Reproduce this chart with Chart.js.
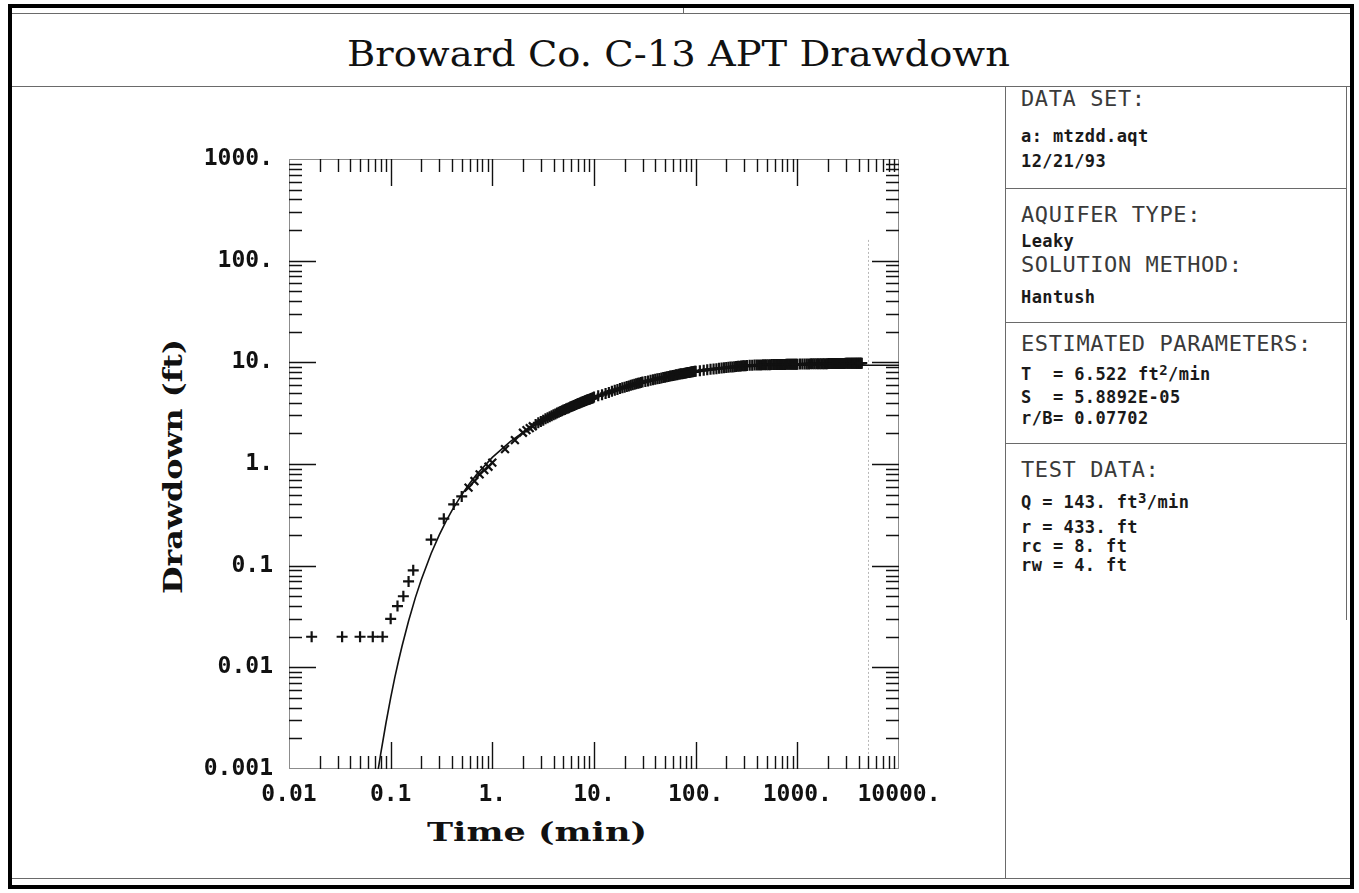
<!DOCTYPE html>
<html>
<head>
<meta charset="utf-8">
<script src="https://cdn.jsdelivr.net/npm/chart.js@4.4.1/dist/chart.umd.min.js"></script>
<style>
  html, body { margin:0; padding:0; background:#fff; }
  body { width:1359px; height:893px; position:relative; overflow:hidden; }
  #c { position:absolute; left:0; top:0; }
  .ln { position:absolute; background:#6a6a6a; }
  .thick { position:absolute; background:#000; }
  .t { position:absolute; white-space:pre; line-height:1; }
  .big { font-family:"DejaVu Sans Mono", monospace; font-size:22px; letter-spacing:0.6px; color:#3a3a3a; }
  .small { font-family:"DejaVu Sans Mono", monospace; font-size:17px; font-weight:bold; color:#1a1a1a; letter-spacing:0.4px; }
  .small sup { font-size:14px; position:relative; top:-3px; vertical-align:top; line-height:1; }
  .fit { position:absolute; white-space:pre; line-height:1; transform-origin:0 0; color:#111; }
  #title { font-family:"DejaVu Serif", serif; font-size:34px; }
  .axt { font-family:"DejaVu Serif", serif; font-weight:bold; font-size:26px; }
</style>
</head>
<body>
<!-- frame -->
<div class="thick" style="left:8px; top:4px; width:1346px; height:4px;"></div>
<div class="thick" style="left:8px; top:885px; width:1346px; height:4px;"></div>
<div class="thick" style="left:8px; top:4px; width:4px; height:885px;"></div>
<div class="thick" style="left:1350px; top:4px; width:4px; height:885px;"></div>
<div class="ln" style="left:12px; top:13px; width:1338px; height:1px;"></div>
<div class="ln" style="left:683px; top:8px; width:1px; height:6px;"></div>
<div class="ln" style="left:12px; top:86px; width:1338px; height:1px;"></div>
<div class="ln" style="left:12px; top:878px; width:1338px; height:1px;"></div>
<div class="ln" style="left:1005px; top:86px; width:1px; height:792px;"></div>
<div class="ln" style="left:1346px; top:86px; width:1px; height:534px;"></div>
<div class="ln" style="left:1005px; top:188px; width:341px; height:1px;"></div>
<div class="ln" style="left:1005px; top:322px; width:341px; height:1px;"></div>
<div class="ln" style="left:1005px; top:443px; width:341px; height:1px;"></div>

<div class="fit" id="title" data-cx="678.5" data-base="66" data-w="663" data-cap="26">Broward Co. C-13 APT Drawdown</div>

<!-- right panel -->
<div class="t big"   style="left:1021px; top:88px;">DATA SET:</div>
<div class="t small" style="left:1021px; top:128px;">a: mtzdd.aqt</div>
<div class="t small" style="left:1021px; top:153px;">12/21/93</div>
<div class="t big"   style="left:1021px; top:204px;">AQUIFER TYPE:</div>
<div class="t small" style="left:1021px; top:233px;">Leaky</div>
<div class="t big"   style="left:1021px; top:254px;">SOLUTION METHOD:</div>
<div class="t small" style="left:1021px; top:289px;">Hantush</div>
<div class="t big"   style="left:1021px; top:333px;">ESTIMATED PARAMETERS:</div>
<div class="t small" style="left:1021px; top:366px;">T  = 6.522 ft<sup>2</sup>/min</div>
<div class="t small" style="left:1021px; top:389px;">S  = 5.8892E-05</div>
<div class="t small" style="left:1021px; top:410px;">r/B= 0.07702</div>
<div class="t big"   style="left:1021px; top:459px;">TEST DATA:</div>
<div class="t small" style="left:1021px; top:494px;">Q = 143. ft<sup>3</sup>/min</div>
<div class="t small" style="left:1021px; top:519px;">r = 433. ft</div>
<div class="t small" style="left:1021px; top:538px;">rc = 8. ft</div>
<div class="t small" style="left:1021px; top:557px;">rw = 4. ft</div>

<div class="fit axt" id="xtitle" data-cx="537" data-base="841" data-w="220" data-cap="19">Time (min)</div>
<div class="fit axt" id="ytitle" data-rot="1" data-cx="466" data-base="182" data-w="255" data-cap="19">Drawdown (ft)</div>

<canvas id="c" width="1359" height="893"></canvas>

<script>
// ---------- data ----------
const xTickValues = [0.01, 0.1, 1, 10, 100, 1000, 10000];
const xTickLabels = ['0.01', '0.1', '1.', '10.', '100.', '1000.', '10000.'];
const yTickValues = [0.001, 0.01, 0.1, 1, 10, 100, 1000];
const yTickLabels = ['0.001', '0.01', '0.1', '1.', '10.', '100.', '1000.'];

// observed drawdown (time in min, drawdown in ft)
const obsTime = [
  0.0167, 0.0333, 0.05, 0.0667, 0.0833, 0.1, 0.1167, 0.1333, 0.15, 0.1667,
  0.25, 0.3333, 0.4167, 0.5, 0.5833, 0.6667, 0.75, 0.8333, 0.9167, 1.0,
  1.333, 1.667, 2.0,
  2.167, 2.333, 2.5, 2.667, 2.833, 3.0, 3.167, 3.333, 3.5, 3.667, 3.833, 4.0,
  4.167, 4.333, 4.5, 4.667, 4.833, 5.0, 5.167, 5.333, 5.5, 5.667, 5.833, 6.0,
  6.167, 6.333, 6.5, 6.667, 6.833, 7.0, 7.167, 7.333, 7.5, 7.667, 7.833, 8.0,
  8.167, 8.333, 8.5, 8.667, 8.833, 9.0, 9.167, 9.333, 9.5, 9.667, 9.833, 10.0,
  11, 12, 13, 14, 15, 16, 17, 18, 19, 20, 21, 22, 23, 24, 25, 26, 27, 28, 29, 30,
  32, 34, 36, 38, 40, 42, 44, 46, 48, 50, 52, 54, 56, 58, 60, 62, 64, 66, 68, 70,
  72, 74, 76, 78, 80, 82, 84, 86, 88, 90, 92, 94, 96, 98, 100,
  110, 120, 130, 140, 150, 160, 170, 180, 190, 200, 210, 220, 230, 240, 250, 260,
  270, 280, 290, 300, 310, 320,
  340, 360, 380, 400, 420, 440, 460, 480, 500, 520, 540, 560, 580, 600, 620, 640,
  660, 680, 700, 720, 740, 760, 780, 800, 820, 840, 860, 880, 900, 920, 940, 960,
  980, 1000,
  1060, 1120, 1180, 1240, 1300, 1360, 1420, 1480, 1540, 1600, 1660, 1720, 1780,
  1840, 1900, 1960, 2020, 2080, 2140, 2200, 2260, 2320, 2380, 2440, 2500, 2560,
  2620, 2680, 2740, 2800, 2860, 2920, 2980, 3040, 3100, 3160, 3220, 3280, 3340,
  3400, 3460, 3520, 3580, 3640, 3700, 3760, 3820, 3880, 3940, 4000, 4060, 4120,
  4180, 4240, 4300
];
const obsDrawdown = [
  0.02, 0.02, 0.02, 0.02, 0.02, 0.03, 0.04, 0.05, 0.07, 0.09,
  0.18, 0.29, 0.40, 0.48, 0.585, 0.68, 0.79, 0.87, 0.94, 1.03,
  1.40, 1.72, 2.03,
  2.15, 2.25, 2.35, 2.45, 2.54, 2.62, 2.70, 2.78, 2.85, 2.92, 2.99, 3.05,
  3.11, 3.17, 3.23, 3.29, 3.34, 3.39, 3.44, 3.49, 3.54, 3.58, 3.63, 3.68,
  3.72, 3.76, 3.80, 3.85, 3.89, 3.93, 3.96, 4.00, 4.04, 4.07, 4.11, 4.15,
  4.18, 4.21, 4.25, 4.28, 4.31, 4.34, 4.37, 4.40, 4.43, 4.46, 4.49, 4.55,
  4.68, 4.81, 4.94, 5.06, 5.20, 5.31, 5.42, 5.52, 5.61, 5.70, 5.78, 5.86, 5.94, 6.01, 6.08, 6.15, 6.21, 6.27, 6.33, 6.39,
  6.47, 6.56, 6.65, 6.73, 6.81, 6.88, 6.95, 7.02, 7.09, 7.15, 7.21, 7.27, 7.32, 7.38, 7.43, 7.48, 7.53, 7.57, 7.62, 7.66,
  7.70, 7.74, 7.78, 7.82, 7.86, 7.89, 7.93, 7.96, 7.99, 8.03, 8.06, 8.09, 8.12, 8.15, 8.18,
  8.28, 8.37, 8.46, 8.53, 8.60, 8.67, 8.73, 8.79, 8.84, 8.89, 8.94, 8.98, 9.02, 9.06, 9.10, 9.13,
  9.17, 9.20, 9.23, 9.26, 9.28, 9.31,
  9.34, 9.37, 9.39, 9.41, 9.43, 9.44, 9.45, 9.46, 9.47, 9.48, 9.49, 9.50, 9.50, 9.51, 9.51, 9.52,
  9.52, 9.53, 9.53, 9.54, 9.54, 9.54, 9.55, 9.55, 9.55, 9.56, 9.56, 9.56, 9.56, 9.57, 9.57, 9.57,
  9.57, 9.58,
  9.62, 9.63, 9.64, 9.65, 9.65, 9.66, 9.67, 9.67, 9.68, 9.68, 9.69, 9.69, 9.70,
  9.70, 9.71, 9.71, 9.72, 9.72, 9.72, 9.73, 9.73, 9.73, 9.74, 9.74, 9.74, 9.75,
  9.75, 9.75, 9.76, 9.76, 9.76, 9.76, 9.77, 9.77, 9.77, 9.77, 9.78, 9.78, 9.78,
  9.78, 9.79, 9.79, 9.79, 9.79, 9.80, 9.80, 9.80, 9.80, 9.80, 9.81, 9.81, 9.81,
  9.81, 9.81, 9.82
];

// fitted Hantush type curve
const fitTime = [0.074, 0.08, 0.09, 0.1, 0.11, 0.12, 0.13, 0.15, 0.175, 0.2, 0.25, 0.3, 0.35,
  0.4, 0.5, 0.6, 0.7, 1, 1.5, 2, 2.5, 3, 4, 5, 7, 10, 15, 20, 30, 40, 50, 70, 100, 150,
  200, 300, 400, 500, 700, 1000, 2000, 5000, 10000];
const fitDrawdown = [0.00088, 0.00143, 0.00285, 0.0050, 0.0080, 0.0118, 0.0165, 0.0286, 0.0485,
  0.0727, 0.1316, 0.1995, 0.2725, 0.3475, 0.499, 0.646, 0.786, 1.161, 1.66, 2.046, 2.366,
  2.635, 3.075, 3.423, 3.958, 4.533, 5.187, 5.649, 6.286, 6.725, 7.056, 7.529, 7.99, 8.449,
  8.72, 9.02, 9.17, 9.25, 9.324, 9.36, 9.37, 9.37, 9.37];

const pumpMarkTime = 5000;   // faint vertical mark on the original sheet
const pumpMarkTop = 160;

// ---------- fit text blocks to the measured size of the original ----------
document.querySelectorAll('.fit').forEach(el => {
  const F = parseFloat(getComputedStyle(el).fontSize);
  const w = el.getBoundingClientRect().width;
  const sx = parseFloat(el.dataset.w) / w;
  const capRatio = 0.729, baseRatio = 0.846;   // DejaVu Serif metrics, line-height 1
  const sy = parseFloat(el.dataset.cap) / (capRatio * F);
  const c = parseFloat(el.dataset.cx), base = parseFloat(el.dataset.base);
  if (el.dataset.rot) {
    // rotate(-90deg) about top-left: local (u,v) -> screen (left + sy*v, top - sx*u)
    el.style.left = (base - baseRatio * F * sy) + 'px';
    el.style.top = (c + w * sx / 2) + 'px';
    el.style.transform = `rotate(-90deg) scale(${sx},${sy})`;
  } else {
    el.style.left = (c - w * sx / 2) + 'px';
    el.style.top = (base - baseRatio * F * sy) + 'px';
    el.style.transform = `scale(${sx},${sy})`;
  }
});

// ---------- chart ----------
const obsPoints = obsTime.map((t, i) => ({ x: t, y: obsDrawdown[i] }));
const fitPoints = fitTime.map((t, i) => ({ x: t, y: fitDrawdown[i] }));

const tickFont = { family: 'DejaVu Sans Mono', size: 23, weight: 'bold' };

const logTickPlugin = {
  id: 'logTicks',
  beforeDatasetsDraw(chart) {
    const { ctx, chartArea: a, scales: { x, y } } = chart;
    ctx.save();
    const px = Math.round(x.getPixelForValue(pumpMarkTime)) + 0.5;
    ctx.strokeStyle = '#b8b8b8'; ctx.lineWidth = 1; ctx.setLineDash([2, 2]);
    ctx.beginPath(); ctx.moveTo(px, y.getPixelForValue(pumpMarkTop)); ctx.lineTo(px, a.bottom); ctx.stroke();
    ctx.setLineDash([]);
    ctx.strokeStyle = '#8c8c8c'; ctx.lineWidth = 1;
    ctx.strokeRect(a.left + 0.5, a.top + 0.5, a.right - a.left - 1, a.bottom - a.top - 1);
    ctx.strokeStyle = '#111'; ctx.lineWidth = 1.4;
    const major = 27, minor = 13;
    ctx.beginPath();
    xTickValues.forEach((d, k) => {
      for (let m = 1; m <= 9; m++) {
        if (k === xTickValues.length - 1 && m > 1) break;
        if (m === 1 && (k === 0 || k === xTickValues.length - 1)) continue;
        const p = Math.round(x.getPixelForValue(d * m)) + 0.5;
        const len = m === 1 ? major : minor;
        ctx.moveTo(p, a.top); ctx.lineTo(p, a.top + len);
        ctx.moveTo(p, a.bottom); ctx.lineTo(p, a.bottom - len);
      }
    });
    yTickValues.forEach((d, k) => {
      for (let m = 1; m <= 9; m++) {
        if (k === yTickValues.length - 1 && m > 1) break;
        if (m === 1 && (k === 0 || k === yTickValues.length - 1)) continue;
        const p = Math.round(y.getPixelForValue(d * m)) + 0.5;
        const len = m === 1 ? major : minor;
        ctx.moveTo(a.left, p); ctx.lineTo(a.left + len, p);
        ctx.moveTo(a.right, p); ctx.lineTo(a.right - len, p);
      }
    });
    ctx.stroke();
    ctx.restore();
  }
};

new Chart(document.getElementById('c'), {
  type: 'scatter',
  data: {
    datasets: [
      {
        label: 'Hantush fit',
        data: fitPoints,
        showLine: true,
        pointRadius: 0,
        borderColor: '#111',
        borderWidth: 1.6,
        tension: 0,
        order: 2
      },
      {
        label: 'Observed',
        data: obsPoints,
        showLine: false,
        pointStyle: ctx => {
          const t = ctx.raw ? ctx.raw.x : 0;
          return (t >= 0.55 && t <= 2.6) ? 'crossRot' : 'cross';
        },
        pointRadius: 5.5,
        borderColor: '#111',
        borderWidth: 2.2,
        order: 1
      }
    ]
  },
  options: {
    responsive: false,
    animation: false,
    devicePixelRatio: 1,
    layout: { padding: { left: 100, top: 159, right: 460, bottom: 64 } },
    plugins: { legend: { display: false }, tooltip: { enabled: false }, title: { display: false } },
    scales: {
      x: {
        type: 'logarithmic',
        min: xTickValues[0],
        max: xTickValues[xTickValues.length - 1],
        afterBuildTicks: s => { s.ticks = xTickValues.map(v => ({ value: v })); },
        afterFit: s => { s.height = 60; },
        ticks: {
          autoSkip: false, maxRotation: 0, minRotation: 0, padding: 12,
          color: '#111', font: tickFont,
          callback: v => { const i = xTickValues.indexOf(v); return i >= 0 ? xTickLabels[i] : ''; }
        },
        grid: { display: false, drawTicks: false },
        border: { display: false }
      },
      y: {
        type: 'logarithmic',
        min: yTickValues[0],
        max: yTickValues[yTickValues.length - 1],
        afterBuildTicks: s => { s.ticks = yTickValues.map(v => ({ value: v })); },
        afterFit: s => { s.width = 189; },
        ticks: {
          autoSkip: false, padding: 16,
          color: '#111', font: tickFont,
          callback: v => { const i = yTickValues.indexOf(v); return i >= 0 ? yTickLabels[i] : ''; }
        },
        grid: { display: false, drawTicks: false },
        border: { display: false }
      }
    }
  },
  plugins: [logTickPlugin]
});
</script>
</body>
</html>
